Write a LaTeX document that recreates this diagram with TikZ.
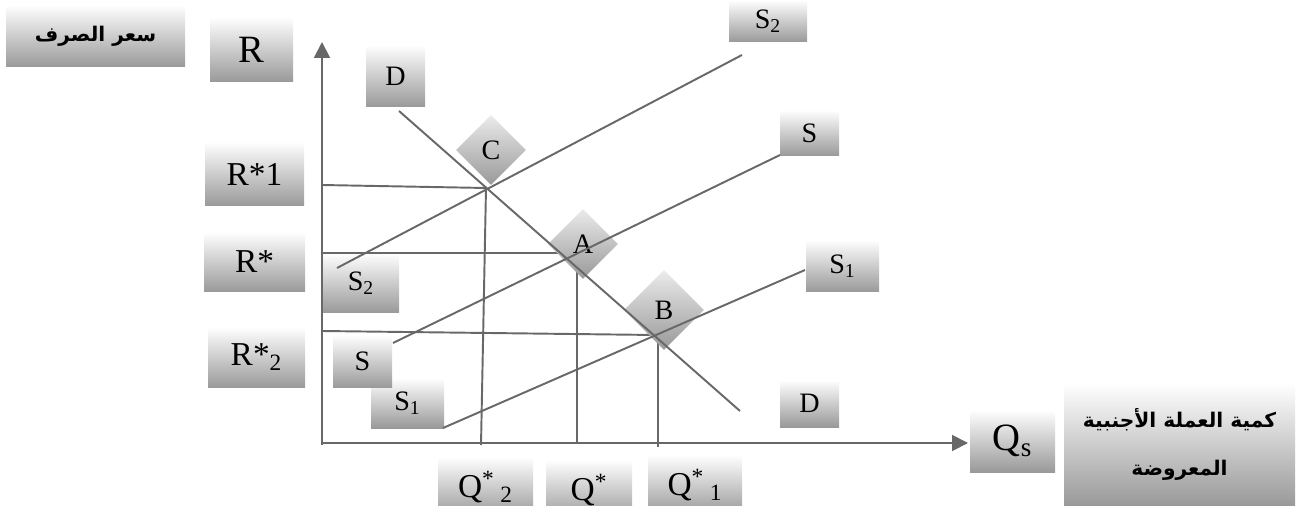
\documentclass[tikz,border=0pt]{standalone}
\usepackage{fontspec}
\setmainfont{Liberation Serif}
\newfontfamily\arabicfont[Script=Arabic]{DejaVu Sans}
\TeXXeTstate=1
\usetikzlibrary{arrows.meta,calc,shapes.geometric}
\definecolor{linegray}{HTML}{686868}
\definecolor{boxgray}{HTML}{999999}
\tikzset{
  lbl/.style 2 args={rectangle,inner sep=0pt,top color=white,bottom color=boxgray,
    minimum width=#1*0.02cm,minimum height=#2*0.02cm},
  diam/.style={diamond,aspect=1,inner sep=0pt,top color=white!92!black,bottom color=boxgray,
    minimum size=#1*0.02cm},
  gline/.style={draw=linegray,line width=1.1pt},
  big/.style={font=\fontsize{22}{24}\selectfont},
  mid/.style={font=\fontsize{19}{21}\selectfont},
  small/.style={font=\fontsize{16}{18}\selectfont},
  ar/.style={font=\arabicfont\bfseries\fontsize{11.5}{13}\selectfont}
}

\begin{document}
\begin{tikzpicture}[x=0.02cm,y=-0.02cm]
  \clip (0,0) rectangle (1298,506);

  % label boxes
  \node[lbl={179}{62},ar] (rate) at (95.5,36) {\beginR سعر الصرف\endR};
  \node[lbl={83}{65},big] (R) at (251.5,49.5) {R};
  \node[lbl={99}{64},mid] (Rs1) at (254.5,174) {R*1};
  \node[lbl={101}{60},mid] (Rs) at (254.5,262) {R*};
  \node[lbl={97}{61},mid] (Rs2) at (256.5,357.5) {R*\textsubscript{2}};
  \node[lbl={76}{60},small] (S2l) at (361,283) {S\textsubscript{2}};
  \node[lbl={73}{50},small] (S1l) at (407.5,403) {S\textsubscript{1}};
  \node[lbl={59}{53},small] (Sl) at (362.5,361.5) {S};
  \node[lbl={59}{62},small] (Dt) at (395.5,76) {D};
  \node[lbl={78}{42},small] (S2r) at (768,21) {S\textsubscript{2}};
  \node[lbl={59}{46},small] (Sr) at (809.5,133) {S};
  \node[lbl={73}{52},small] (S1r) at (842.5,266) {S\textsubscript{1}};
  \node[lbl={59}{47},small] (Db) at (809.5,403.5) {D};
  \node[lbl={85}{62},big] (Qs) at (1012.5,441) {Q\textsubscript{s}};
  \node[lbl={231}{123},ar,align=center] (qty) at (1179.5,444.5)
    {\beginR كمية العملة الأجنبية\endR\\[14pt]\beginR المعروضة\endR};
  \node[lbl={95}{60},mid] (Qs2) at (485.5,487) {Q\textsuperscript{*}\,\textsubscript{2}};
  \node[lbl={86}{60},mid] (Qst) at (589,490) {Q\textsuperscript{*}};
  \node[lbl={94}{60},mid] (Qs1) at (695,485) {Q\textsuperscript{*}\,\textsubscript{1}};

  % points
  \coordinate (O) at (322,443);
  \coordinate (ytip) at (322,42);
  \coordinate (xtip) at (968,443);
  \coordinate (C) at (486,188);
  \coordinate (A) at (568,259);
  \coordinate (B) at (655,335);
  \coordinate (r1) at (322,185);
  \coordinate (r0) at (322,253);
  \coordinate (r2) at (322,331);
  \coordinate (q2) at (481,445);
  \coordinate (q0) at (577,443);
  \coordinate (q1) at (658,447);

  % guide lines
  \draw[gline] (r1) -- (C);
  \draw[gline] (r0) -- (r0 -| A);
  \draw[gline] (r2) -- (B);
  \draw[gline] (C) -- (q2);
  \draw[gline] (A -| q0) -- (q0);
  \draw[gline] (B -| q1) -- (q1);

  % equilibrium points
  \node[diam=70,small] (Cd) at (491,150) {C};
  \node[diam=70,small] (Ad) at (583,244) {A};
  \node[diam=80,small] (Bd) at (664,310) {B};

  % demand and supply
  \coordinate (D1) at (399,111);
  \coordinate (D2) at (740,411);
  \coordinate (S21) at (337,268);
  \coordinate (S22) at (742,55);
  \coordinate (S01) at (393,343);
  \coordinate (S02) at (780,155);
  \coordinate (S11) at (443,428);
  \coordinate (S12) at (805,270);
  \draw[gline] (D1) -- (D2);
  \draw[gline] (S21) -- (S22);
  \draw[gline] (S01) -- (S02);
  \draw[gline] (S11) -- (S12);

  % axes
  \draw[gline,-{Triangle[length=0.32cm,width=0.32cm]}] ($(O)+(0,2)$) -- (ytip);
  \draw[gline,-{Triangle[length=0.32cm,width=0.32cm]}] (O) -- (xtip);
\end{tikzpicture}
\end{document}
